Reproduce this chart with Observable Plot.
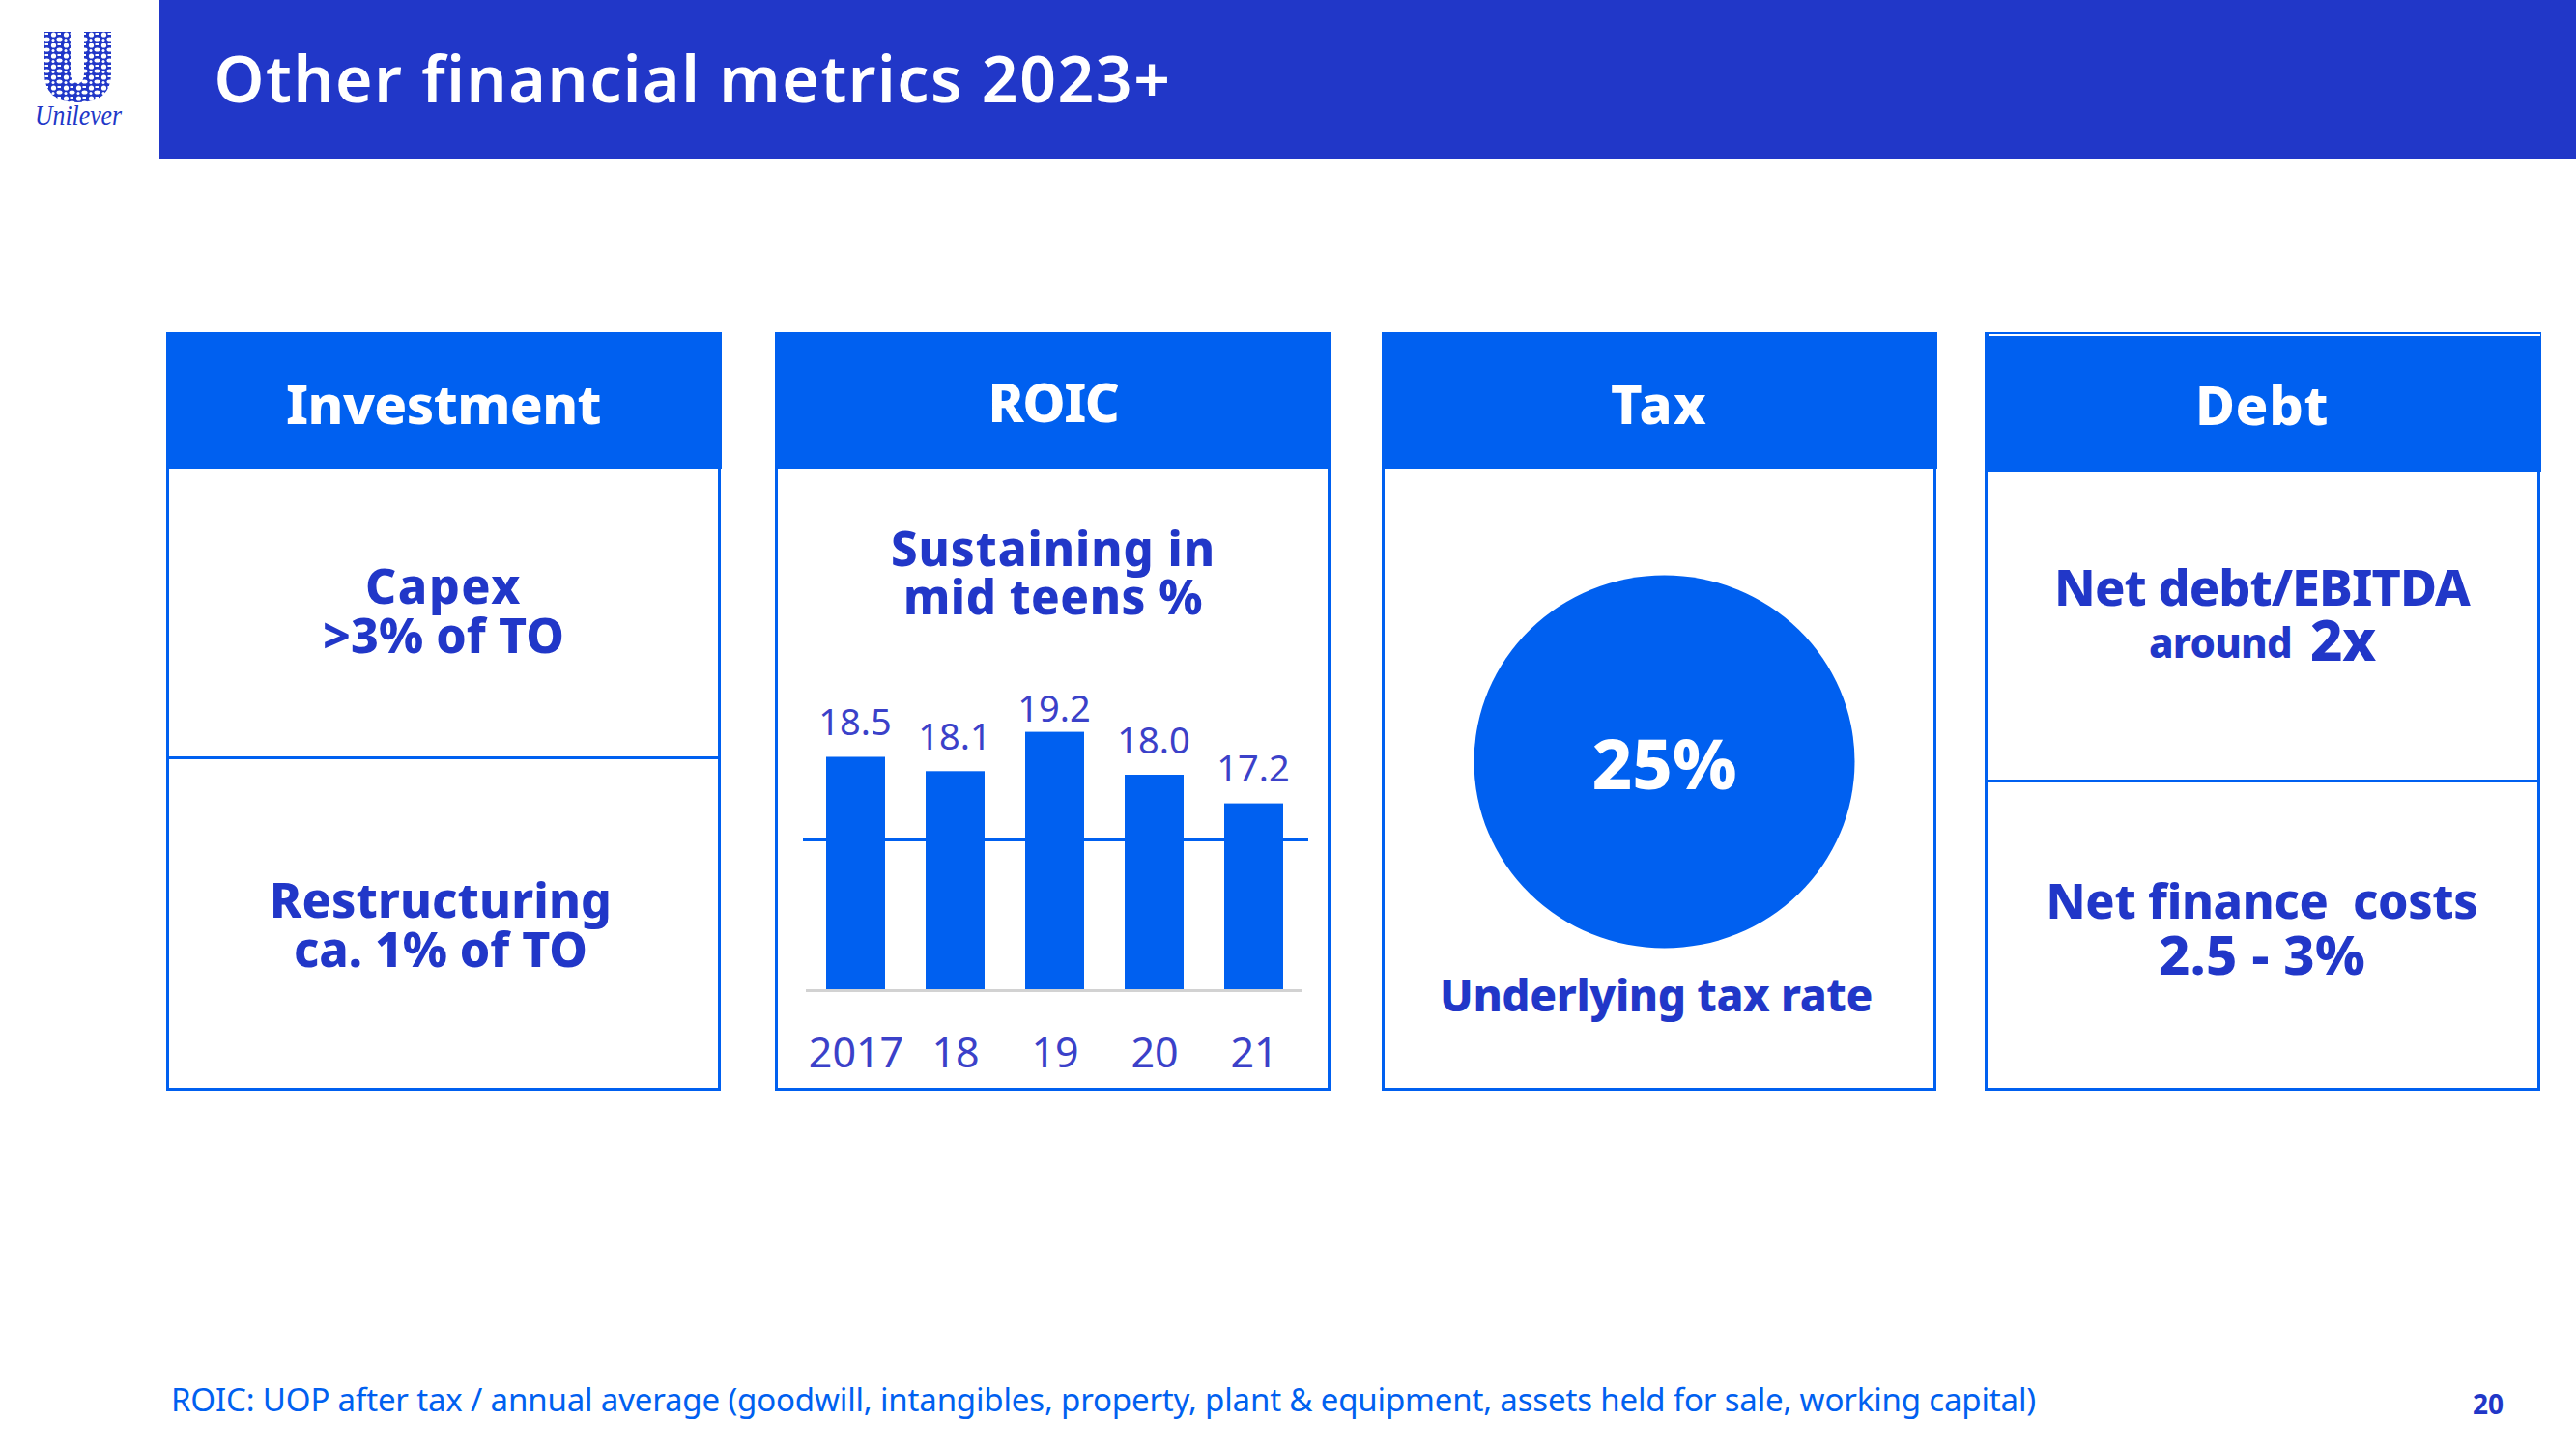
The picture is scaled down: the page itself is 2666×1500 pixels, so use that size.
<!DOCTYPE html>
<html>
<head>
<meta charset="utf-8">
<script src="https://cdn.jsdelivr.net/npm/d3@7"></script>
<script src="https://cdn.jsdelivr.net/npm/@observablehq/plot@0.6"></script>
<style>
html,body{margin:0;padding:0;background:#fff;width:2666px;height:1500px;overflow:hidden}
#slide{position:relative;width:2666px;height:1500px;overflow:hidden}
.abs{position:absolute;box-sizing:border-box}
.t{position:absolute;white-space:pre;line-height:.8;transform:translate(-50%,-50%);font-family:"Noto Sans",sans-serif}
</style>
</head>
<body>
<div id="slide"></div>
<script>
// ---- chart values ----
const years = ["2017","18","19","20","21"];
const roic = [18.5,18.1,19.2,18.0,17.2];
const midTeensLevel = [16.2];
const taxRate = [25];

// ---- slide texts ----
const slideTitle = "Other financial metrics 2023+";
const footnote = "ROIC: UOP after tax / annual average (goodwill, intangibles, property, plant & equipment, assets held for sale, working capital)";
const pageNumber = "20";

const NAVY="#2137c8", BLUE="#0060f0", LABEL="#3b41c9";
const slide=document.getElementById("slide");

function box(l,t,w,h,css){const d=document.createElement("div");d.className="abs";
  d.style.cssText+=`left:${l}px;top:${t}px;width:${w}px;height:${h}px;${css||""}`;slide.appendChild(d);return d;}

// text centred at cx,cy, letter-spaced so it has the measured width
function text(s,cx,cy,size,weight,color,width,family){
  const d=document.createElement("div");d.className="t";d.textContent=s;
  d.style.left=cx+"px";d.style.top=cy+"px";d.style.fontSize=size+"px";d.style.fontWeight=weight;d.style.color=color;
  if(family)d.style.fontFamily=family;
  slide.appendChild(d);
  if(width){const w=d.getBoundingClientRect().width;d.style.letterSpacing=((width-w)/s.length)+"px";}
  return d;
}

// header band
box(165,0,2501,165,`background:${NAVY}`);
text(slideTitle,717,80,66,600,"#fff",991);

// panels
const panels=[
 {l:172,r:746,hb:486,div:784},
 {l:802,r:1377,hb:486},
 {l:1430,r:2004,hb:486},
 {l:2054,r:2629,hb:489,div:808}];
panels.forEach(p=>{
  box(p.l,344,p.r-p.l,1129-344,`border:3px solid ${BLUE};background:#fff`);
  box(p.l,344,p.r-p.l+1,p.hb-344,`background:${BLUE}`);
  if(p.div) box(p.l,p.div-1,p.r-p.l,3,`background:${BLUE}`);
});
box(2058,346,571,1.5,"background:#fff");

// panel headings
text("Investment",459,417,56,800,"#fff",326);
text("ROIC",1090,415,56,800,"#fff",135);
text("Tax",1717,417,56,800,"#fff",100);
text("Debt",2341,418,56,800,"#fff",138);

// panel bodies
text("Capex",459,606,50,800,NAVY,162);
text(">3% of TO",459,657,50,800,NAVY,250);
text("Restructuring",456,931,50,800,NAVY,354);
text("ca. 1% of TO",456,982,50,800,NAVY,304);
text("Sustaining in",1090,568,49,800,NAVY,336);
text("mid teens %",1090,618,49,800,NAVY,310);
text("Underlying tax rate",1714,1029,46,800,NAVY,448);
text("Net debt/EBITDA",2341,607,52,800,NAVY,430);
text("around",2298,665,42,800,NAVY,148);
text("2x",2425,662,58,800,NAVY,68);
text("Net finance  costs",2341,932,50,800,NAVY,447);
text("2.5 - 3%",2341,987,56,800,NAVY,214);

// footer
text(footnote,1142,1449,33,400,BLUE,1930);
text(pageNumber,2575,1453,28,700,NAVY);

// logo
const logo=document.createElementNS("http://www.w3.org/2000/svg","svg");
logo.setAttribute("width",165);logo.setAttribute("height",165);
logo.style.cssText="position:absolute;left:0;top:0";
logo.innerHTML=`<defs>
<pattern id="m" width="13" height="11" patternUnits="userSpaceOnUse">
<rect width="13" height="11" fill="${NAVY}"/>
<circle cx="3.5" cy="3" r="2.6" fill="#fff"/><ellipse cx="9.5" cy="7.5" rx="3" ry="2" fill="#fff"/>
<rect x="7.500" y="1" width="3.5" height="2" fill="#fff"/><circle cx="3" cy="8.5" r="1.5" fill="#fff"/>
</pattern></defs>
<path d="M46 33H73V76Q73 86 80.500 86Q87 86 87 76V33H115V76Q115 106 80.500 106Q46 106 46 76Z" fill="url(#m)"/>
<text x="81" y="129" text-anchor="middle" textLength="90" lengthAdjust="spacingAndGlyphs" font-family="Liberation Serif" font-style="italic" font-size="30" fill="${NAVY}">Unilever</text>`;
slide.appendChild(logo);

// ---- ROIC bar chart ----
const rows=years.map((year,i)=>({year,value:roic[i]}));
const chartLeft=802, chartTop=690, baseline=1024, unit=37;
const chart=Plot.plot({
  width:575,height:430,
  marginLeft:32,marginRight:29,marginTop:0,marginBottom:0,
  style:{background:"transparent",overflow:"visible"},
  x:{domain:years,range:[10.2,568.3],padding:0.41,label:null},
  y:{domain:[12,20],range:[baseline-chartTop,baseline-chartTop-8*unit],label:null,axis:null},
  marks:[
    Plot.ruleY([12],{stroke:"#d2d2d2",strokeWidth:3,dy:1}),
    Plot.ruleY(midTeensLevel,{stroke:BLUE,strokeWidth:4,insetLeft:-3,insetRight:-6}),
    Plot.barY(rows,{x:"year",y1:12,y2:"value",fill:BLUE}),
    Plot.text(rows.filter(d=>d.value!==19.2),{x:"year",y:"value",text:d=>d.value.toFixed(1),dy:-35,dx:-1,fontSize:38,fill:LABEL,fontFamily:"'Noto Sans'"}),
    Plot.text(rows.filter(d=>d.value===19.2),{x:"year",y:"value",text:d=>d.value.toFixed(1),dy:-23,dx:-1,fontSize:38,fill:LABEL,fontFamily:"'Noto Sans'"}),
    Plot.axisX({anchor:"bottom",tickSize:0,tickPadding:-46,label:null,fontSize:43,fill:LABEL,fontFamily:"'Noto Sans'"})
  ]
});
chart.style.cssText+=`;position:absolute;left:${chartLeft}px;top:${chartTop}px`;
slide.appendChild(chart);

// ---- tax rate disc ----
const disc=Plot.plot({
  width:400,height:400,margin:0,
  style:{background:"transparent",overflow:"visible"},
  x:{axis:null},y:{axis:null},
  marks:[
    Plot.dot(taxRate,{frameAnchor:"middle",r:197,fill:BLUE}),
    Plot.text(taxRate,{frameAnchor:"middle",text:d=>d+"%",dy:6,fontSize:72,fontWeight:800,fill:"#fff",fontFamily:"'Noto Sans'"})
  ]
});
disc.style.cssText+=";position:absolute;left:1522px;top:588px;transform:scaleY(0.98)";
slide.appendChild(disc);
</script>
</body>
</html>
